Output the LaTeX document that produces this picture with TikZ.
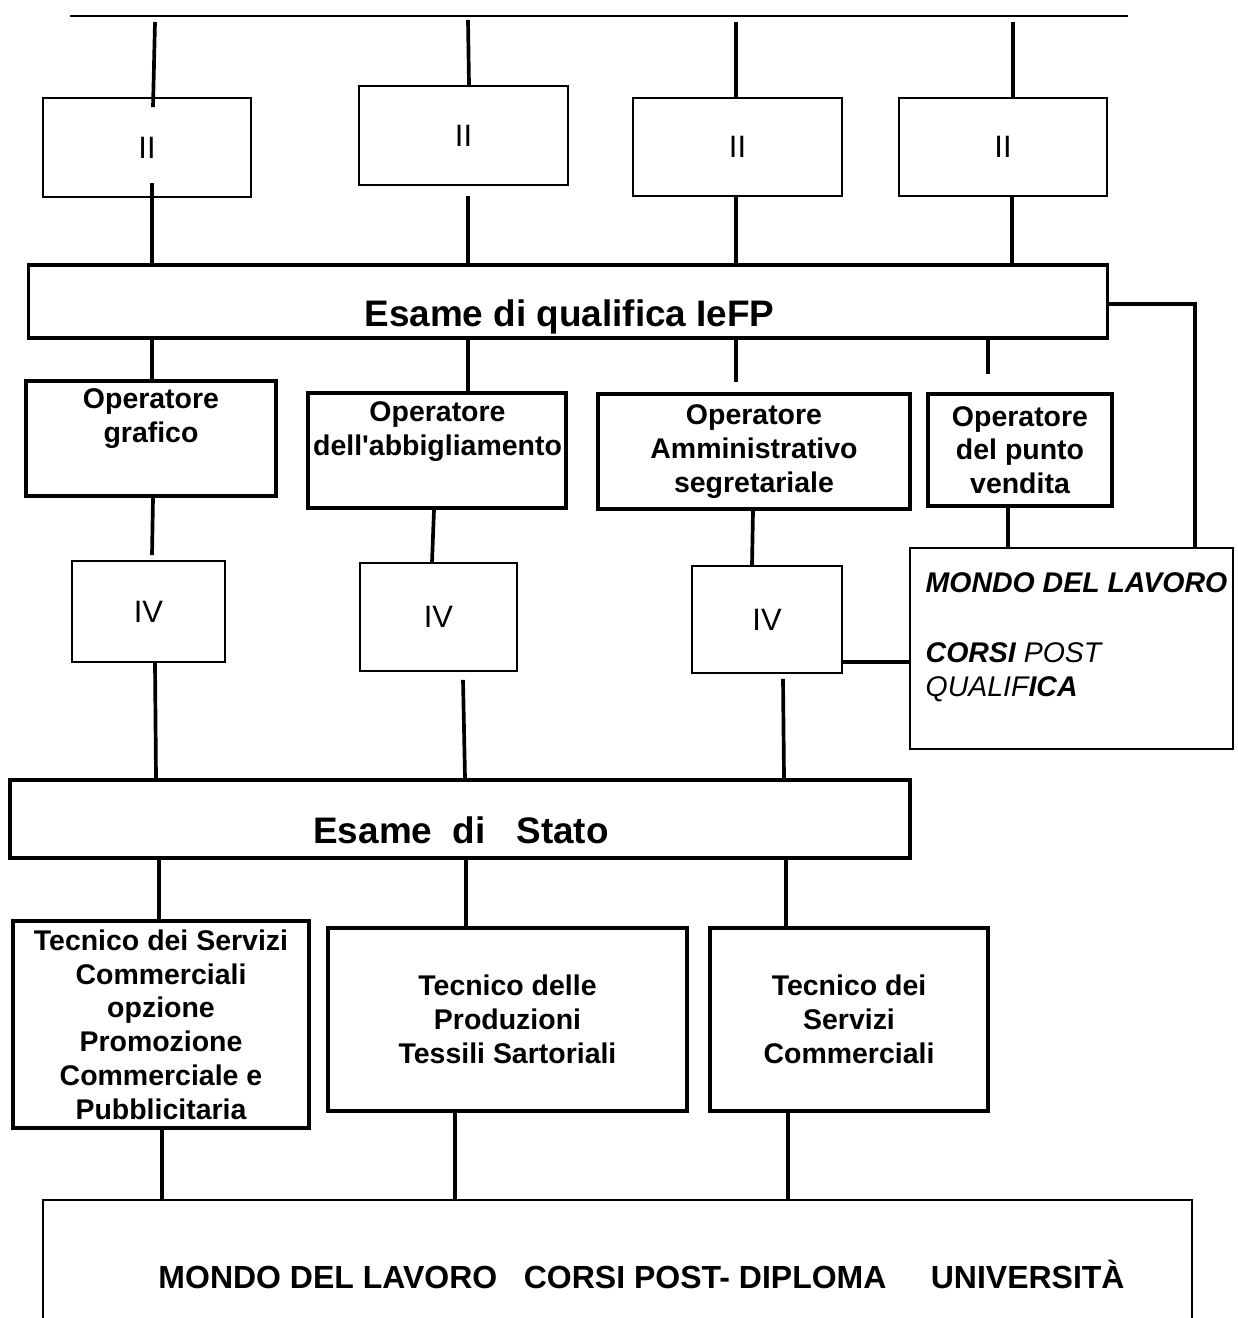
\documentclass[tikz,border=0pt]{standalone}
\usepackage{fontspec}
\setmainfont{Liberation Sans}
\tikzset{
  box/.style 2 args={draw, line width=1pt, inner sep=0pt, minimum width=#1mm, minimum height=#2mm},
  sbox/.style 2 args={box={#1}{#2}, line width=0.5pt},
  link/.style={line width=1.05pt},
  op/.style={font=\bfseries\fontsize{8.1}{9.6}\selectfont, align=center},
  num/.style={font=\fontsize{8.8}{10}\selectfont},
  exam/.style={font=\bfseries\fontsize{10.5}{12}\selectfont},
}

\begin{document}
\begin{tikzpicture}[x=1mm,y=-1mm]
\useasboundingbox (0,0) rectangle (123.7,131.8);
% anno II
\coordinate (top-l) at (7.0,1.6);
\coordinate (top-r) at (112.8,1.6);
\draw[line width=0.5pt] (top-l) -- (top-r);
\node[sbox={20.8}{9.9}, num] (ii1) at (14.7,14.75) {II};
\node[sbox={20.9}{9.9}, num] (ii2) at (46.35,13.55) {II};
\node[sbox={20.9}{9.8}, num] (ii3) at (73.75,14.7) {II};
\node[sbox={20.8}{9.8}, num] (ii4) at (100.3,14.7) {II};
\draw[link] ([yshift=-0.6mm]top-l -| 15.5,0) -- ([yshift=-1mm]ii1.north -| 15.3,0);
\draw[link] ([yshift=-0.4mm]top-l -| 46.8,0) -- (ii2.north -| 46.9,0);
\draw[link] ([yshift=-0.6mm]top-l -| 73.6,0) -- (ii3.north -| 73.6,0);
\draw[link] ([yshift=-0.6mm]top-l -| 101.3,0) -- (ii4.north -| 101.3,0);

% qualifica
\node[box={107.9}{7.3}] (esq) at (56.8,30.15) {};
\node[exam] (esq-t) at (56.95,31.7) {Esame di qualifica IeFP};
\draw[link] ([yshift=1.5mm]ii1.south -| 15.2,0) -- (esq.north -| 15.2,0);
\draw[link] ([yshift=-1mm]ii2.south -| 46.8,0) -- (esq.north -| 46.8,0);
\draw[link] (ii3.south -| 73.6,0) -- (esq.north -| 73.6,0);
\draw[link] (ii4.south -| 101.2,0) -- (esq.north -| 101.2,0);

% operatori
\node[box={25.0}{11.5}] (opg) at (15.1,43.85) {};
\node[op] (opg-t) at (15.1,41.85) {Operatore\\grafico};
\node[box={25.8}{11.5}] (opa) at (43.7,45.05) {};
\node[op] (opa-t) at (43.75,43.15) {Operatore\\dell\textquotesingle abbigliamento};
\node[box={31.2}{11.5}, op] (opm) at (75.4,45.15) {Operatore\\Amministrativo\\segretariale};
\node[box={18.4}{11.2}, op] (opv) at (102.0,45.0) {Operatore\\del punto\\vendita};
\draw[link] (esq.south -| 15.2,0) -- (opg.north -| 15.2,0);
\draw[link] (esq.south -| 46.8,0) -- (opa.north -| 46.8,0);
\draw[link] (esq.south -| 73.6,0) -- ([yshift=1mm]opm.north -| 73.6,0);
\draw[link] (esq.south -| 98.8,0) -- ([yshift=1.8mm]opv.north -| 98.8,0);

% anno IV e uscita dopo la qualifica
\node[sbox={15.3}{10.1}, num] (iv1) at (14.85,61.15) {IV};
\node[sbox={15.7}{10.8}, num] (iv2) at (43.85,61.7) {IV};
\node[sbox={15.0}{10.7}, num] (iv3) at (76.7,61.95) {IV};
\node[sbox={32.3}{20.1}] (mondo) at (107.15,64.85) {};
\node[anchor=north west, inner sep=0pt, align=left, font=\itshape\fontsize{8.1}{9.9}\selectfont] (mondo-t) at (92.5,57.2)
  {\textbf{MONDO DEL LAVORO}\\[9.9pt]\textbf{CORSI} POST\\QUALIF\textbf{ICA}};
\draw[link] (opg.south -| 15.3,0) -- ([yshift=0.5mm]iv1.north -| 15.2,0);
\draw[link] (opa.south -| 43.4,0) -- (iv2.north -| 43.2,0);
\draw[link] (opm.south -| 75.3,0) -- (iv3.north -| 75.2,0);
\draw[link] (opv.south -| 100.8,0) -- (mondo.north -| 100.8,0);
\coordinate (knee) at (119.5,30.4);
\draw[link] (esq.east |- knee) -- (knee) -- (mondo.north -| knee);
\draw[link] (iv3.east |- 0,66.2) -- (mondo.west |- 0,66.2);

% esame di stato
\node[box={90.0}{7.8}] (stato) at (46.0,81.9) {};
\node[exam] (stato-t) at (46.1,83.0) {Esame\ \ di\ \ \ Stato};
\draw[link] (iv1.south -| 15.5,0) -- (stato.north -| 15.6,0);
\draw[link] ([yshift=-0.8mm]iv2.south -| 46.3,0) -- (stato.north -| 46.5,0);
\draw[link] ([yshift=-0.5mm]iv3.south -| 78.3,0) -- (stato.north -| 78.4,0);

% tecnici
\node[box={29.6}{20.7}, op] (tec1) at (16.1,102.45) {Tecnico dei Servizi\\Commerciali\\opzione\\Promozione\\Commerciale e\\Pubblicitaria};
\node[box={35.9}{18.3}, op] (tec2) at (50.75,101.95) {Tecnico delle\\Produzioni\\Tessili Sartoriali};
\node[box={27.8}{18.3}, op] (tec3) at (84.9,101.95) {Tecnico dei\\Servizi\\Commerciali};
\draw[link] (stato.south -| 15.9,0) -- (tec1.north -| 15.9,0);
\draw[link] (stato.south -| 46.6,0) -- (tec2.north -| 46.6,0);
\draw[link] (stato.south -| 78.6,0) -- (tec3.north -| 78.6,0);

% sbocchi
\node[box={114.9}{14}, line width=0.6pt] (out) at (61.75,127.0) {};
\node[font=\bfseries\fontsize{9.1}{10}\selectfont] (out-t) at (64.15,127.4)
  {MONDO DEL LAVORO\ \ \ CORSI POST- DIPLOMA\ \ \ \ \ UNIVERSITÀ};
\draw[link] (tec1.south -| 16.2,0) -- (out.north -| 16.2,0);
\draw[link] (tec2.south -| 45.5,0) -- (out.north -| 45.5,0);
\draw[link] (tec3.south -| 78.8,0) -- (out.north -| 78.8,0);
\end{tikzpicture}
\end{document}
